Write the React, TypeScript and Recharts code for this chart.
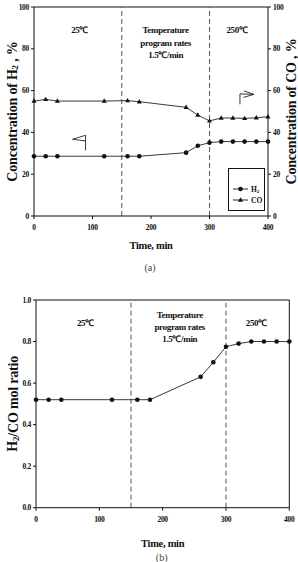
import React from 'react';
import {
  LineChart,
  Line,
  XAxis,
  YAxis,
  ReferenceLine,
  ReferenceDot,
} from 'recharts';

// Sampling times (min) shared by every series
const timeMin = [0, 20, 40, 120, 160, 180, 260, 280, 300, 320, 340, 360, 380, 400];
// Panel (a): outlet concentrations, %
const h2Pct = [28.6, 28.6, 28.6, 28.6, 28.6, 28.6, 30.3, 33.6, 35.1, 35.6, 35.6, 35.6, 35.6, 35.6];
const coPct = [55.0, 55.8, 55.0, 55.0, 55.2, 54.7, 52.0, 48.3, 45.5, 46.9, 46.9, 46.7, 47.0, 47.5];
// Panel (b): H2/CO molar ratio
const h2CoRatio = [0.52, 0.52, 0.52, 0.52, 0.52, 0.52, 0.63, 0.70, 0.775, 0.79, 0.8, 0.8, 0.8, 0.8];

const timeTicks = [0, 100, 200, 300, 400];
const pctTicks = [0, 20, 40, 60, 80, 100];
const ratioTicks = [0, 0.2, 0.4, 0.6, 0.8, 1.0];
// Boundaries between the isothermal and ramp stages
const stageBounds = [150, 300];
const seriesNames = ['H2', 'CO'];

const concData = timeMin.map((t, i) => ({ t, h2: h2Pct[i], co: coPct[i] }));
const ratioData = timeMin.map((t, i) => ({ t, ratio: h2CoRatio[i] }));

const FONT = "'Liberation Serif', 'Times New Roman', serif";
const INK = '#111';
const tickStyle = { fontSize: 7.5, fontWeight: 700, fill: INK, fontFamily: FONT, letterSpacing: -0.3 };

const CircleDot = (p: any) =>
  p.cx == null ? null : <circle key={`c${p.index}`} cx={p.cx} cy={p.cy} r={2.3} fill={INK} />;

const TriDot = (p: any) =>
  p.cx == null ? null : (
    <path
      key={`t${p.index}`}
      d={`M${p.cx},${p.cy - 2.7}L${p.cx + 2.5},${p.cy + 1.7}L${p.cx - 2.5},${p.cy + 1.7}Z`}
      fill={INK}
    />
  );

const XTitle = ({ viewBox, caption, titleDy, captionDy }: any) => {
  const { x, y, width } = viewBox;
  const cx = x + width / 2;
  return (
    <g>
      <text x={cx} y={y + titleDy} textAnchor="middle" fontFamily={FONT} fontWeight={700}
        fontSize={10.5} fill={INK} letterSpacing={-0.3}>
        Time, min
      </text>
      <text x={cx - 1} y={y + captionDy} textAnchor="middle" fontFamily={FONT}
        fontSize={10} fill="#444">
        {caption}
      </text>
    </g>
  );
};

const YTitle = ({ viewBox, cx, children }: any) => {
  const { y, height } = viewBox;
  const cy = y + height / 2;
  return (
    <text x={cx} y={cy} transform={`rotate(-90 ${cx} ${cy})`} textAnchor="middle"
      dominantBaseline="central" fontFamily={FONT} fontWeight={700} fontSize={14}
      fill={INK} letterSpacing={-0.2}>
      {children}
    </text>
  );
};

const StageText = ({ viewBox, lines }: any) => {
  const x = viewBox.x + (viewBox.width || 0) / 2;
  const y = viewBox.y + (viewBox.height || 0) / 2;
  const start = y - ((lines.length - 1) * 12.3) / 2;
  return (
    <text textAnchor="middle" dominantBaseline="central" fontFamily={FONT} fontWeight={700}
      fontSize={9} fill={INK} letterSpacing={-0.35}>
      {lines.map((l: string, i: number) => (
        <tspan key={i} x={x} y={start + i * 12.3}>{l}</tspan>
      ))}
    </text>
  );
};

// Hooked arrow pointing left, towards the left axis (H2 curve)
const LeftArrow = (p: any) => {
  const { cx, cy } = p;
  return (
    <path
      d={`M${cx + 6.5},${cy + 11} L${cx + 6.5},${cy - 4} L${cx - 6.5},${cy} L${cx + 6},${cy + 1.5}`}
      stroke="#222" strokeWidth={0.9} fill="none"
    />
  );
};

// Hooked arrow pointing right, towards the right axis (CO curve)
const RightArrow = (p: any) => {
  const { cx, cy } = p;
  return (
    <path
      d={`M${cx - 7},${cy + 10} L${cx - 7},${cy - 0.5} L${cx + 7},${cy} M${cx + 7},${cy} L${cx - 3},${cy - 3.5} M${cx + 7},${cy} L${cx - 3.5},${cy + 3}`}
      stroke="#222" strokeWidth={0.9} fill="none"
    />
  );
};

const LegendBox = () => (
  <div
    style={{
      position: 'absolute', left: 228, top: 168, width: 37, height: 43,
      border: `1px solid ${INK}`, boxSizing: 'border-box', background: '#fff',
    }}
  >
    <svg width={35} height={41} style={{ display: 'block' }}>
      <line x1={4} x2={19} y1={20} y2={20} stroke={INK} strokeWidth={0.9} />
      <circle cx={11.5} cy={20} r={2.3} fill={INK} />
      <text x={22} y={20} dominantBaseline="central" fontSize={7.5} fontWeight={700} fontFamily={FONT} fill={INK}>
        H<tspan fontSize={5} dy={1.5}>2</tspan>
      </text>
      <line x1={4} x2={19} y1={31} y2={31} stroke={INK} strokeWidth={0.9} />
      <path d="M11.5,28.3L14,32.7L9,32.7Z" fill={INK} />
      <text x={22} y={31} dominantBaseline="central" fontSize={7.5} fontWeight={700} fontFamily={FONT} fill={INK}>
        {seriesNames[1]}
      </text>
    </svg>
  </div>
);

const stageLines = ['Temperature', 'program rates', '1.5℃/min'];

export default function App() {
  return (
    <div style={{ position: 'absolute', left: 0, top: 0, width: 298, height: 562, background: '#fff', overflow: 'hidden' }}>
      {/* (a) H2 and CO concentration vs. time */}
      <div style={{ position: 'absolute', left: 0, top: 0 }}>
        <LineChart width={298} height={280} data={concData}
          margin={{ top: 7, right: 0, left: 0, bottom: 0 }}>
          <XAxis dataKey="t" type="number" domain={[0, 400]} ticks={timeTicks}
            tick={tickStyle} tickSize={3} tickMargin={6} height={64} stroke={INK}
            label={<XTitle caption="(a)" titleDy={33} captionDy={55} />} />
          <YAxis yAxisId="h2" domain={[0, 100]} ticks={pctTicks} tick={tickStyle}
            tickSize={3} tickMargin={2} width={34} stroke={INK} interval={0}
            label={<YTitle cx={12}>Concentration of H<tspan fontSize={9} dy={3}>2</tspan><tspan dy={-3}> , %</tspan></YTitle>} />
          <YAxis yAxisId="co" orientation="right" domain={[0, 100]} ticks={pctTicks}
            tick={tickStyle} tickSize={3} tickMargin={2} width={30} stroke={INK} interval={0}
            label={<YTitle cx={291}>Concentration of CO , %</YTitle>} />
          <ReferenceLine yAxisId="h2" y={100} stroke={INK} />
          {stageBounds.map((b) => (
            <ReferenceLine key={b} yAxisId="h2" x={b} stroke="#555" strokeDasharray="5 3" />
          ))}
          <ReferenceDot yAxisId="h2" x={78} y={89} r={1} fill="none" stroke="none"
            label={<StageText lines={['25℃']} />} />
          <ReferenceDot yAxisId="h2" x={225} y={83} r={1} fill="none" stroke="none"
            label={<StageText lines={stageLines} />} />
          <ReferenceDot yAxisId="h2" x={347} y={89} r={1} fill="none" stroke="none"
            label={<StageText lines={['250℃']} />} />
          <ReferenceDot yAxisId="h2" x={77} y={36.7} shape={LeftArrow} />
          <ReferenceDot yAxisId="co" x={364} y={58.2} shape={RightArrow} />
          <Line yAxisId="h2" dataKey="h2" name={seriesNames[0]} stroke="#222" strokeWidth={0.9}
            dot={CircleDot} isAnimationActive={false} />
          <Line yAxisId="co" dataKey="co" name={seriesNames[1]} stroke="#222" strokeWidth={0.9}
            dot={TriDot} isAnimationActive={false} />
        </LineChart>
      </div>
      <LegendBox />

      {/* (b) H2/CO molar ratio vs. time */}
      <div style={{ position: 'absolute', left: 0, top: 285 }}>
        <LineChart width={298} height={277} data={ratioData}
          margin={{ top: 15, right: 8.7, left: 0, bottom: 0 }}>
          <XAxis dataKey="t" type="number" domain={[0, 400]} ticks={timeTicks}
            tick={tickStyle} tickSize={3} tickMargin={6} height={54.3} stroke={INK}
            label={<XTitle caption="(b)" titleDy={39} captionDy={53.5} />} />
          <YAxis domain={[0, 1]} ticks={ratioTicks} tick={tickStyle} interval={0}
            tickFormatter={(v: number) => v.toFixed(1)} tickSize={3} tickMargin={2}
            width={36} stroke={INK}
            label={<YTitle cx={13}>H<tspan fontSize={9} dy={3}>2</tspan><tspan dy={-3}>/CO mol ratio</tspan></YTitle>} />
          <ReferenceLine y={1} stroke={INK} />
          <ReferenceLine x={400} stroke={INK} />
          {stageBounds.map((b) => (
            <ReferenceLine key={b} x={b} stroke="#555" strokeDasharray="5 3" />
          ))}
          <ReferenceDot x={78} y={0.89} r={1} fill="none" stroke="none"
            label={<StageText lines={['25℃']} />} />
          <ReferenceDot x={227} y={0.87} r={1} fill="none" stroke="none"
            label={<StageText lines={stageLines} />} />
          <ReferenceDot x={348} y={0.89} r={1} fill="none" stroke="none"
            label={<StageText lines={['250℃']} />} />
          <Line dataKey="ratio" stroke="#222" strokeWidth={0.9} dot={CircleDot}
            isAnimationActive={false} />
        </LineChart>
      </div>
    </div>
  );
}
